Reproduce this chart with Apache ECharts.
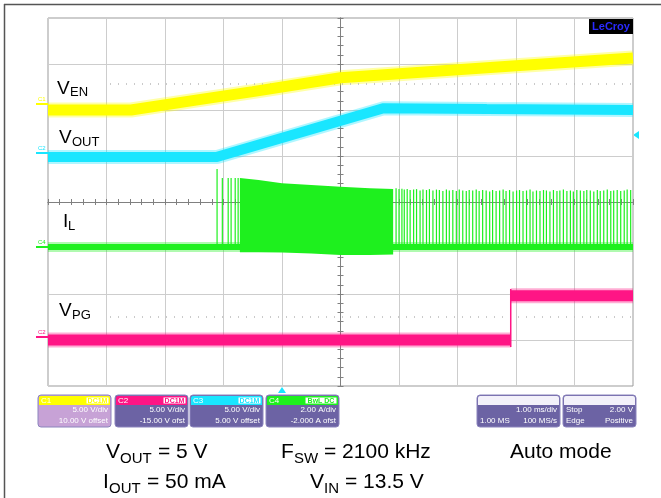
<!DOCTYPE html>
<html>
<head>
<meta charset="utf-8">
<script src="https://cdn.jsdelivr.net/npm/echarts/dist/echarts.min.js"></script>
<style>
html,body{margin:0;padding:0;background:#fff}
#scope{width:661px;height:498px}
</style>
</head>
<body>
<div id="scope"></div>
<script>
// screen units: x = ms (1 ms/div, centre = 0), y = divisions (centre = 0)

// C1  V(EN)
var enTime = [-5, -3.58, -2.5, -1.5, 0, 1.5, 3, 5];
var enDiv  = [2.0, 2.0, 2.21, 2.40, 2.70, 2.83, 2.96, 3.13];
// C3  V(OUT)
var outTime = [-5, -2.11, 0.74, 2.5, 5];
var outDiv  = [0.98, 0.98, 2.04, 2.02, 2.0];
// C2  V(PG)
var pgLowTime  = [-5, 2.91];
var pgLowDiv   = [-3.0, -3.0];
var pgHighTime = [2.91, 5];
var pgHighDiv  = [-2.04, -2.04];
// C4  I(L)
var ilBase = -0.98;
var ilStartTime = [-2.11, -2.02, -1.92, -1.87, -1.80, -1.75];
var ilStartTop  = [0.72, 0.52, 0.52, 0.52, 0.52, 0.52];
var ilBurstTime   = [-1.72, -1.4, -1.0, -0.5, 0, 0.5, 0.9];
var ilBurstTop    = [0.52, 0.48, 0.41, 0.37, 0.33, 0.30, 0.28];
var ilBurstBottom = [-1.09, -1.09, -1.10, -1.12, -1.15, -1.15, -1.14];
var ilPulseTime = [0.95,1.00,1.05,1.09,1.14,1.19,1.25,1.30,1.36,1.41,
  1.47,1.52,1.58,1.64,1.69,1.75,1.81,1.86,1.92,1.98,
  2.03,2.09,2.15,2.20,2.26,2.32,2.37,2.43,2.49,2.55,
  2.60,2.66,2.72,2.78,2.83,2.89,2.95,3.01,3.06,3.12,
  3.18,3.24,3.29,3.35,3.41,3.47,3.52,3.58,3.64,3.70,
  3.75,3.81,3.87,3.93,3.98,4.04,4.10,4.16,4.21,4.27,
  4.33,4.39,4.44,4.50,4.56,4.62,4.67,4.73,4.79,4.85,
  4.90,4.96];
var ilPulseTop = [0.30,0.28,0.29,0.27,0.28,0.26,0.27,0.28,0.25,0.27,
  0.26,0.28,0.25,0.27,0.26,0.24,0.27,0.25,0.26,0.24,
  0.27,0.25,0.24,0.26,0.25,0.27,0.24,0.26,0.25,0.23,
  0.26,0.24,0.25,0.27,0.24,0.26,0.23,0.25,0.26,0.24,
  0.25,0.27,0.23,0.25,0.24,0.26,0.25,0.23,0.26,0.24,
  0.25,0.27,0.24,0.25,0.23,0.26,0.25,0.24,0.26,0.25,
  0.23,0.26,0.24,0.25,0.27,0.24,0.25,0.26,0.24,0.25,
  0.27,0.26];
// dotted reference levels
var refStart = -3.94;
var refLevels = [2.57, -2.5];

// channel boxes
var chName   = ['C1', 'C2', 'C3', 'C4'];
var chTag    = ['DC1M', 'DC1M', 'DC1M', 'BwL DC'];
var chScale  = ['5.00 V/div', '5.00 V/div', '5.00 V/div', '2.00 A/div'];
var chOffset = ['10.00 V offset', '-15.00 V ofst', '5.00 V offset', '-2.000 A ofst'];
var timebaseText = ['1.00 ms/div', '1.00 MS', '100 MS/s'];
var triggerText  = ['Stop', '2.00 V', 'Edge', 'Positive'];

var YEL = '#ffff00', PINK = '#ff1585', CYAN = '#19e6ff', GRN = '#1ef01e';
var chColor = [YEL, PINK, CYAN, GRN];
var FONT = 'Liberation Sans, Arial, sans-serif';

function pairs(xs, ys) {
  return xs.map(function (x, i) { return [x, ys[i]]; });
}

// a noisy scope trace: solid core plus a faint fuzzy edge
function trace(name, data, color, width) {
  return [
    {type: 'line', name: name + ' fuzz', data: data, showSymbol: false, symbol: 'none', silent: true, z: 4,
      lineStyle: {color: color, width: width + 4, opacity: 0.35}},
    {type: 'line', name: name, data: data, showSymbol: false, symbol: 'none', silent: true, z: 5,
      lineStyle: {color: color, width: width}}
  ];
}

function centreAxis(dim, inside) {
  return {
    type: 'value', min: dim === 'x' ? -5 : -4, max: dim === 'x' ? 5 : 4, interval: 1,
    axisLine: {show: true, onZero: true, lineStyle: {color: '#808080', width: 1}},
    axisTick: {show: true, inside: inside, length: 3, lineStyle: {color: '#808080'}},
    minorTick: {show: true, splitNumber: 5, length: 3, lineStyle: {color: '#808080'}},
    axisLabel: {show: false}, splitLine: {show: false}
  };
}

function txt(x, y, s, size, color, align, weight) {
  return {type: 'text', x: x, y: y, silent: true, z: 100,
    style: {text: s, font: (weight || 'normal') + ' ' + size + 'px ' + FONT, fill: color || '#000',
      textAlign: align || 'left', textVerticalAlign: 'middle'}};
}

function channelBox(i, x) {
  var w = 73, y = 395;
  var body = i === 0 ? '#c7a2d6' : '#6c63a4';
  var tagW = i === 3 ? 32 : 23;
  return [
    {type: 'rect', shape: {x: x, y: y, width: w, height: 32, r: 3}, style: {fill: body, stroke: '#8b84bd', lineWidth: 1}, z: 90},
    {type: 'rect', shape: {x: x + 1, y: y + 1, width: w - 2, height: 9, r: [2, 2, 0, 0]}, style: {fill: chColor[i]}, z: 91},
    txt(x + 3, y + 6, chName[i], 8, '#ffffff'),
    {type: 'rect', shape: {x: x + w - tagW - 2, y: y + 2, width: tagW, height: 7}, style: {fill: '#ffffff', stroke: chColor[i], lineWidth: 1}, z: 92},
    txt(x + w - 3 - tagW / 2 + 1, y + 6, chTag[i], 7, chColor[i], 'center', 'bold'),
    txt(x + w - 3, y + 15, chScale[i], 8, '#ffffff', 'right'),
    txt(x + w - 3, y + 26, chOffset[i], 8, '#ffffff', 'right')
  ];
}

function infoBox(x, w) {
  return [
    {type: 'rect', shape: {x: x, y: 395, width: w, height: 32, r: 3}, style: {fill: '#6c63a4', stroke: '#8b84bd', lineWidth: 1}, z: 90},
    {type: 'rect', shape: {x: x + 1, y: 396, width: w - 2, height: 9, r: [2, 2, 0, 0]}, style: {fill: '#f3f1fa'}, z: 91}
  ];
}

var graphics = [];
// outer frame
graphics.push({type: 'line', shape: {x1: 4.5, y1: 4, x2: 4.5, y2: 498}, style: {stroke: '#555', lineWidth: 1.5}, silent: true});
graphics.push({type: 'line', shape: {x1: 4, y1: 4.5, x2: 661, y2: 4.5}, style: {stroke: '#555', lineWidth: 1.5}, silent: true});
// LeCroy logo
graphics.push({type: 'rect', shape: {x: 589, y: 19, width: 44, height: 15}, style: {fill: '#000'}, z: 100});
graphics.push(txt(611, 27, 'LeCroy', 11, '#2a2aff', 'center', 'bold'));
// trace labels
graphics.push(txt(57, 88.5, 'V', 19), txt(70, 92.5, 'EN', 13));
graphics.push(txt(59, 138, 'V', 19), txt(72, 142.5, 'OUT', 13));
graphics.push(txt(63, 222, 'I', 19), txt(68, 226, 'L', 13));
graphics.push(txt(59, 311, 'V', 19), txt(72, 315, 'PG', 13));
// channel ground markers
[[104, YEL, 'C1'], [153, CYAN, 'C2'], [247, GRN, 'C4'], [337, PINK, 'C2']].forEach(function (m) {
  graphics.push(txt(38, m[0] - 5, m[2], 6, m[1]));
  graphics.push({type: 'line', shape: {x1: 36, y1: m[0], x2: 48, y2: m[0]}, style: {stroke: m[1], lineWidth: 2}, silent: true});
});
// trigger markers
graphics.push({type: 'polygon', shape: {points: [[633, 135], [639, 131], [639, 139]]}, style: {fill: CYAN}, silent: true});
graphics.push({type: 'polygon', shape: {points: [[282, 387], [278, 393], [286, 393]]}, style: {fill: CYAN}, silent: true});
// channel info boxes
[38, 115, 190, 266].forEach(function (x, i) { graphics = graphics.concat(channelBox(i, x)); });
graphics = graphics.concat(infoBox(477, 83));
graphics.push(txt(557, 410, timebaseText[0], 8, '#fff', 'right'));
graphics.push(txt(480, 421, timebaseText[1], 8, '#fff'));
graphics.push(txt(557, 421, timebaseText[2], 8, '#fff', 'right'));
graphics = graphics.concat(infoBox(563, 73));
graphics.push(txt(566, 410, triggerText[0], 8, '#fff'));
graphics.push(txt(633, 410, triggerText[1], 8, '#fff', 'right'));
graphics.push(txt(566, 421, triggerText[2], 8, '#fff'));
graphics.push(txt(633, 421, triggerText[3], 8, '#fff', 'right'));
// test conditions
graphics.push(txt(106, 452.5, 'V', 21), txt(120, 458.6, 'OUT', 15), txt(158, 452.5, '= 5 V', 21));
graphics.push(txt(281, 452.5, 'F', 21), txt(294, 458.6, 'SW', 15), txt(324, 452.5, '= 2100 kHz', 21));
graphics.push(txt(510, 452.5, 'Auto mode', 21));
graphics.push(txt(103, 482.5, 'I', 21), txt(109, 488.6, 'OUT', 15), txt(147, 482.5, '= 50 mA', 21));
graphics.push(txt(310, 482.5, 'V', 21), txt(324, 488.6, 'IN', 15), txt(345, 482.5, '= 13.5 V', 21));

var chart = echarts.init(document.getElementById('scope'));

var series = [
  {type: 'line', name: 'ref', data: [], silent: true, z: 1,
    markLine: {symbol: 'none', silent: true, label: {show: false},
      lineStyle: {color: '#b8b8b8', type: [1, 7], width: 1.5},
      data: refLevels.map(function (v) { return [{coord: [refStart, v]}, {coord: [5, v]}]; })}}
];
series = series.concat(
  trace('V_EN', pairs(enTime, enDiv), YEL, 11),
  trace('V_OUT', pairs(outTime, outDiv), CYAN, 10),
  trace('V_PG low', pairs(pgLowTime, pgLowDiv), PINK, 11),
  trace('V_PG high', pairs(pgHighTime, pgHighDiv), PINK, 11),
  trace('I_L base', [[-5, ilBase], [5, ilBase]], GRN, 6)
);
series.push(
  {type: 'line', name: 'V_PG edge', data: [[pgLowTime[1], pgLowDiv[1] - 0.15], [pgHighTime[0], pgHighDiv[0] + 0.15]],
    showSymbol: false, symbol: 'none', silent: true, z: 5, lineStyle: {color: PINK, width: 1.5}},
  {type: 'custom', name: 'I_L burst', silent: true, z: 6, data: [[0, 0]],
    renderItem: function (params, api) {
      var pts = [];
      ilBurstTime.forEach(function (t, i) { pts.push(api.coord([t, ilBurstTop[i]])); });
      for (var i = ilBurstTime.length - 1; i >= 0; i--) pts.push(api.coord([ilBurstTime[i], ilBurstBottom[i]]));
      return {type: 'polygon', shape: {points: pts}, style: {fill: GRN}};
    }},
  {type: 'custom', name: 'I_L pulses', silent: true, z: 6,
    data: pairs(ilStartTime.concat(ilPulseTime), ilStartTop.concat(ilPulseTop)),
    encode: {x: 0, y: 1},
    renderItem: function (params, api) {
      var a = api.coord([api.value(0), ilBase]);
      var b = api.coord([api.value(0), api.value(1)]);
      return {type: 'line', shape: {x1: a[0], y1: a[1], x2: b[0], y2: b[1]}, style: {stroke: GRN, lineWidth: 1.2}};
    }}
);

chart.setOption({
  animation: false,
  backgroundColor: '#ffffff',
  grid: {left: 48, top: 18, width: 585, height: 368, show: true, borderColor: '#9a9a9a', borderWidth: 1, backgroundColor: 'transparent'},
  xAxis: [
    {type: 'value', min: -5, max: 5, interval: 1, axisLine: {show: false}, axisTick: {show: false},
      axisLabel: {show: false}, splitLine: {show: true, lineStyle: {color: '#cdcdcd', width: 1}}},
    centreAxis('x', true),
    centreAxis('x', false)
  ],
  yAxis: [
    {type: 'value', min: -4, max: 4, interval: 1, axisLine: {show: false}, axisTick: {show: false},
      axisLabel: {show: false}, splitLine: {show: true, lineStyle: {color: '#cdcdcd', width: 1}}},
    centreAxis('y', true),
    centreAxis('y', false)
  ],
  series: series,
  graphic: graphics
});
</script>
</body>
</html>
